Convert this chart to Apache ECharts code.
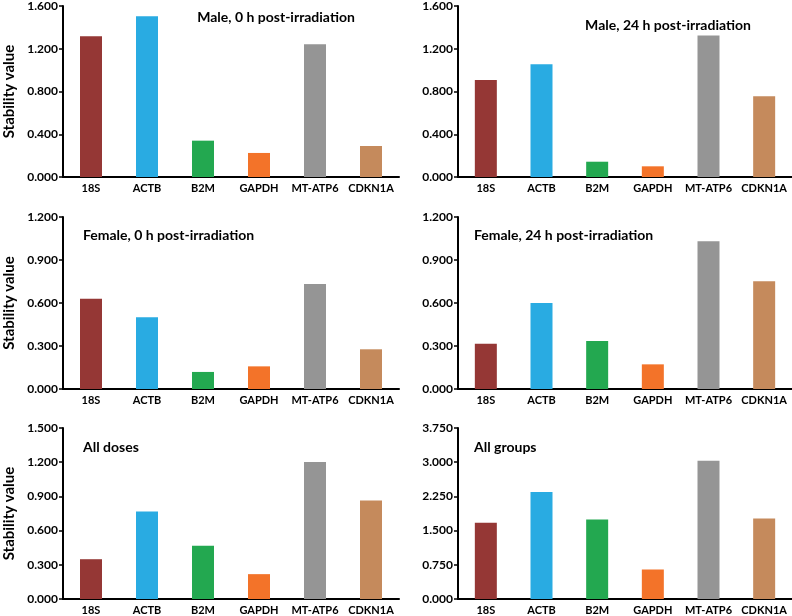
<!DOCTYPE html>
<html>
<head>
<meta charset="utf-8">
<script src="https://cdn.jsdelivr.net/npm/echarts@6/dist/echarts.min.js"></script>
<style>html,body{margin:0;padding:0;background:#fff;}#c{width:792px;height:616px;}</style>
</head>
<body>
<div id="c"></div>
<script>
const categories = ['18S', 'ACTB', 'B2M', 'GAPDH', 'MT-ATP6', 'CDKN1A'];
const panelTitles = ['Male, 0 h post-irradiation', 'Male, 24 h post-irradiation', 'Female, 0 h post-irradiation', 'Female, 24 h post-irradiation', 'All doses', 'All groups'];
const male0h = [1.316, 1.503, 0.340, 0.225, 1.241, 0.290];
const male24h = [0.908, 1.054, 0.143, 0.100, 1.323, 0.755];
const female0h = [0.630, 0.500, 0.119, 0.158, 0.733, 0.277];
const female24h = [0.316, 0.600, 0.335, 0.172, 1.030, 0.751];
const allDoses = [0.349, 0.767, 0.468, 0.218, 1.201, 0.863];
const allGroups = [1.672, 2.347, 1.744, 0.647, 3.031, 1.766];
const yMax = [1.6, 1.6, 1.2, 1.2, 1.5, 3.75];
const yStep = [0.4, 0.4, 0.3, 0.3, 0.3, 0.75];
const yAxisTitle = 'Stability value';

const seriesValues = [male0h, male24h, female0h, female24h, allDoses, allGroups];
const colors = ['#953735', '#29abe2', '#23a850', '#f37329', '#959595', '#c58a5c'];
const FONT = 'Lato';

const gridPos = [
  {left: 63, width: 336, top: 6, height: 171},
  {left: 458, width: 334, top: 6, height: 171},
  {left: 63, width: 336, top: 217, height: 172},
  {left: 458, width: 334, top: 217, height: 172},
  {left: 63, width: 336, top: 428, height: 172},
  {left: 458, width: 334, top: 428, height: 172}
];
const titlePos = [
  {left: 271, top: 5, textAlign: 'center'},
  {left: 663, top: 13, textAlign: 'center'},
  {left: 78, top: 223},
  {left: 469, top: 223},
  {left: 78, top: 435},
  {left: 469, top: 435}
];

const grids = [], xAxes = [], yAxes = [], series = [], titles = [];
for (let i = 0; i < 6; i++) {
  grids.push(Object.assign({containLabel: false}, gridPos[i]));
  titles.push(Object.assign({
    text: panelTitles[i],
    textStyle: {fontFamily: FONT, fontWeight: 'bold', fontSize: 14, color: '#000'}
  }, titlePos[i]));
  xAxes.push({
    type: 'category', gridIndex: i, data: categories,
    axisLine: {lineStyle: {color: '#000', width: 2}},
    axisTick: {show: false},
    axisLabel: {color: '#000', fontFamily: FONT, fontWeight: 'bold', fontSize: 11, margin: 6, interval: 0}
  });
  yAxes.push({
    type: 'value', gridIndex: i, min: 0, max: yMax[i], interval: yStep[i],
    name: (i % 2 === 0) ? yAxisTitle : '',
    nameLocation: 'middle', nameGap: 46,
    nameTextStyle: {color: '#000', fontFamily: FONT, fontWeight: 'bold', fontSize: 15},
    axisLine: {show: true, lineStyle: {color: '#000', width: 2}},
    axisTick: {show: true, length: 4, lineStyle: {color: '#000', width: 1.5}},
    splitLine: {show: false},
    axisLabel: {color: '#000', fontFamily: FONT, fontWeight: 'bold', fontSize: 12, margin: 5,
      formatter: v => v.toFixed(3)}
  });
  series.push({
    type: 'bar', xAxisIndex: i, yAxisIndex: i, barWidth: 22,
    data: seriesValues[i].map((v, k) => ({value: v, itemStyle: {color: colors[k]}})),
    animation: false
  });
}

const chart = echarts.init(document.getElementById('c'), null, {renderer: 'canvas'});
chart.setOption({
  backgroundColor: '#fff',
  animation: false,
  title: titles,
  grid: grids,
  xAxis: xAxes,
  yAxis: yAxes,
  series: series
});
</script>
</body>
</html>
